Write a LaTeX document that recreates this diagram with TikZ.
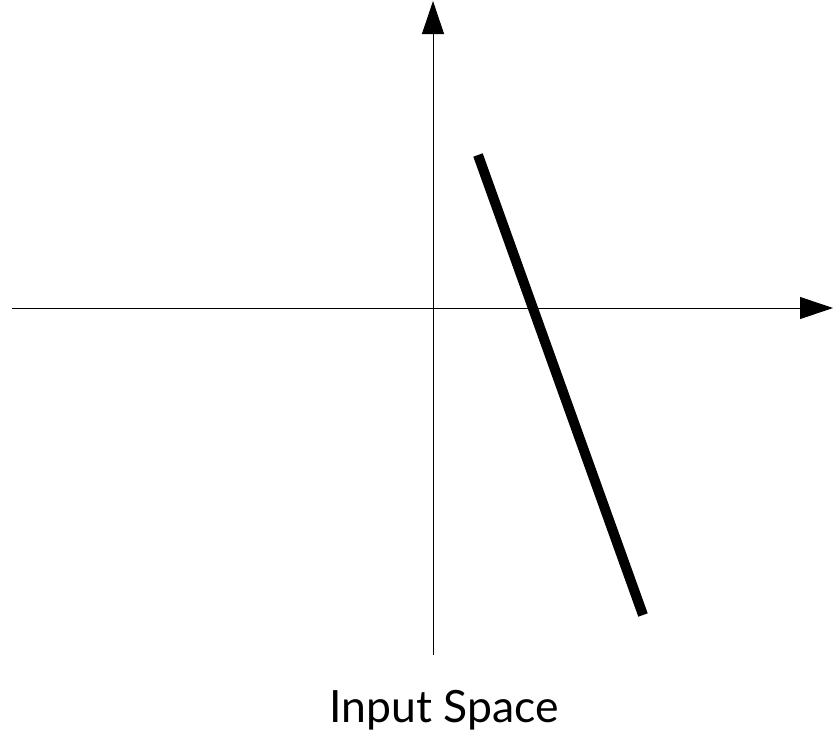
\documentclass[tikz,border=0pt]{standalone}
\usepackage{fontspec}
\setmainfont{Lato}
\usetikzlibrary{arrows.meta}
\begin{document}
\begin{tikzpicture}[x=1pt,y=-1pt, every node/.style={font=\fontsize{44.5}{52}\selectfont}]
  \useasboundingbox (0,0) rectangle (833,734);
  \coordinate (O) at (433,308);
  \coordinate (L) at (12,308);
  \coordinate (R) at (833,308);
  \coordinate (T) at (433,1);
  \coordinate (D) at (433,655);
  \coordinate (P) at (478,155);
  \coordinate (Q) at (643,615);
  \draw[line width=1pt,-{Triangle[length=33pt,width=22pt]}] (L) -- (R);
  \draw[line width=1pt,-{Triangle[length=33pt,width=22pt]}] (D) -- (T);
  \draw[line width=10pt] (P) -- (Q);
  \node[anchor=base] (label) at (444,722) {Input Space};
\end{tikzpicture}
\end{document}
